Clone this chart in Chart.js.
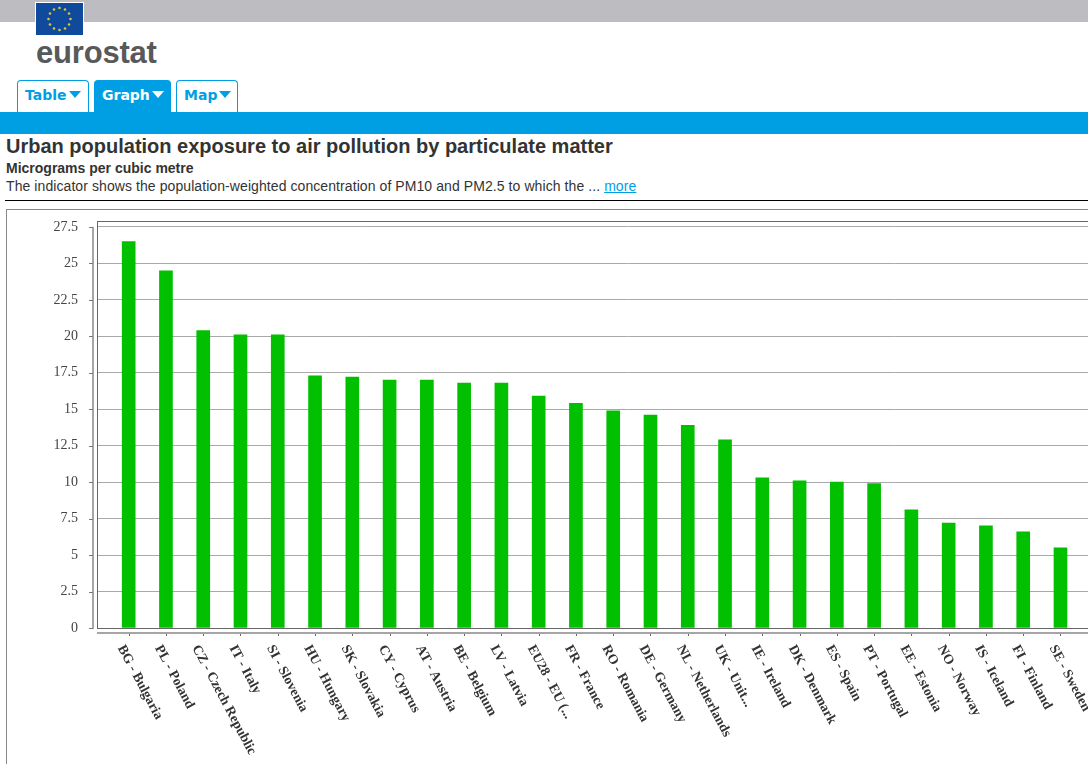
<!DOCTYPE html>
<html>
<head>
<meta charset="utf-8">
<title>Urban population exposure to air pollution by particulate matter</title>
<script src="https://cdn.jsdelivr.net/npm/chart.js@4"></script>
<style>
html, body { margin: 0; padding: 0; background: #fff; overflow: hidden; width: 1088px; height: 764px; }
body { position: relative; font-family: "Liberation Sans", Arial, sans-serif; color: #333; }
.abs { position: absolute; white-space: nowrap; }
#topbar { left: 0; top: 0; width: 1088px; height: 22px; background: #bdbdc1; }
#flag { left: 36px; top: 3px; width: 47px; height: 32px; background: #0f4a9c; box-shadow: 0 0 0 1px #fff; }
#logo { left: 36px; top: 36px; font-size: 31px; font-weight: bold; color: #58595b; line-height: 34px; letter-spacing: -0.2px; }
.tab { top: 80px; height: 32px; box-sizing: border-box; border: 1px solid #009fe3; border-bottom: none; border-radius: 4px 4px 0 0; background: #fff; color: #009fe3; font-family: "DejaVu Sans", sans-serif; font-weight: bold; font-size: 14px; line-height: 29px; padding-left: 7px; }
.tab i { display: inline-block; width: 0; height: 0; border-left: 6px solid transparent; border-right: 6px solid transparent; border-top: 7px solid #009fe3; margin-left: 2px; vertical-align: 2px; }
.tab.on { background: #009fe3; color: #fff; }
.tab.on i { border-top-color: #fff; }
#band { left: 0; top: 112px; width: 1088px; height: 22px; background: #009fe3; }
#title { left: 6px; top: 134px; font-size: 20px; font-weight: bold; line-height: 24px; }
#unit { left: 6px; top: 160px; font-size: 14px; font-weight: bold; line-height: 17px; }
#desc { left: 6px; top: 178px; font-size: 14px; line-height: 17px; letter-spacing: 0.08px; }
#desc a { color: #009fe3; text-decoration: underline; }
#rule { left: 5px; top: 200px; width: 1083px; height: 1px; background: #000; }
#frame { left: 6px; top: 209px; width: 1100px; height: 600px; border: 1px solid #888; box-sizing: border-box; }
#wrap { left: 0; top: 210px; width: 1160px; height: 554px; }
</style>
</head>
<body>
<div class="abs" id="topbar"></div>
<svg class="abs" id="flag" viewBox="0 0 47 32"></svg>
<div class="abs" id="logo">eurostat</div>
<div class="abs tab" style="left:17px;width:72px">Table<i></i></div>
<div class="abs tab on" style="left:94px;width:77px">Graph<i></i></div>
<div class="abs tab" style="left:176px;width:62px">Map<i></i></div>
<div class="abs" id="band"></div>
<div class="abs" id="title">Urban population exposure to air pollution by particulate matter</div>
<div class="abs" id="unit">Micrograms per cubic metre</div>
<div class="abs" id="desc">The indicator shows the population-weighted concentration of PM10 and PM2.5 to which the ... <a href="#">more</a></div>
<div class="abs" id="rule"></div>
<div class="abs" id="frame"></div>
<div class="abs" id="wrap"><canvas id="chart"></canvas></div>
<script>
const countries = ['BG - Bulgaria', 'PL - Poland', 'CZ - Czech Republic', 'IT - Italy', 'SI - Slovenia',
    'HU - Hungary', 'SK - Slovakia', 'CY - Cyprus', 'AT - Austria', 'BE - Belgium', 'LV - Latvia',
    'EU28 - EU (...', 'FR - France', 'RO - Romania', 'DE - Germany', 'NL - Netherlands', 'UK - Unit...',
    'IE - Ireland', 'DK - Denmark', 'ES - Spain', 'PT - Portugal', 'EE - Estonia', 'NO - Norway',
    'IS - Iceland', 'FI - Finland', 'SE - Sweden'];
const values = [26.5, 24.5, 20.4, 20.1, 20.1, 17.3, 17.2, 17, 17, 16.8, 16.8, 15.9, 15.4, 14.9, 14.6,
    13.9, 12.9, 10.3, 10.1, 10, 9.9, 8.1, 7.2, 7, 6.6, 5.5];
const yTicks = [0, 2.5, 5, 7.5, 10, 12.5, 15, 17.5, 20, 22.5, 25, 27.5];

// Flag stars
const flag = document.getElementById('flag');
for (let i = 0; i < 12; i++) {
    const a = i * Math.PI / 6;
    const s = document.createElementNS('http://www.w3.org/2000/svg', 'circle');
    s.setAttribute('cx', 23.5 + 11 * Math.sin(a));
    s.setAttribute('cy', 16 - 11 * Math.cos(a));
    s.setAttribute('r', 1.3);
    s.setAttribute('fill', '#d8c53a');
    flag.appendChild(s);
}

// Plot box around the bars
const plotBox = {
    id: 'plotBox',
    afterDatasetsDraw(chart) {
        const { ctx, chartArea: a } = chart;
        ctx.save();
        ctx.strokeStyle = '#666';
        ctx.strokeRect(a.left + 0.5, a.top + 0.5, a.width, a.height);
        ctx.restore();
    }
};

// The axes sit a few pixels away from the plot box, and the x labels run downwards
const detachedAxes = {
    id: 'detachedAxes',
    afterDraw(chart) {
        const { ctx, chartArea, scales } = chart;
        ctx.save();
        ctx.fillStyle = '#a6a6a6';
        // y axis
        const axisX = chartArea.left - 4;
        const y0 = scales.y.getPixelForValue(0);
        const yTop = scales.y.getPixelForValue(27.5);
        ctx.fillRect(axisX - 1, yTop, 2, y0 - yTop + 1);
        ctx.fillStyle = '#777';
        yTicks.forEach(v => {
            ctx.fillRect(axisX - 4, Math.round(scales.y.getPixelForValue(v)), 4, 1);
        });
        // x axis
        const axisY = chartArea.bottom + 5;
        ctx.fillStyle = '#a6a6a6';
        ctx.fillRect(chartArea.left, axisY - 1, chartArea.width, 2);
        ctx.fillStyle = '#666';
        countries.forEach((c, i) => {
            ctx.fillRect(Math.round(scales.x.getPixelForValue(i)), axisY + 1, 1, 2);
        });
        // x labels
        ctx.fillStyle = '#333';
        ctx.font = 'bold 13.7px "Liberation Serif", serif';
        ctx.textAlign = 'left';
        ctx.textBaseline = 'middle';
        countries.forEach((c, i) => {
            ctx.save();
            ctx.translate(scales.x.getPixelForValue(i) - 8, axisY + 13);
            ctx.rotate(62 * Math.PI / 180);
            ctx.fillText(c, 0, 0);
            ctx.restore();
        });
        ctx.restore();
    }
};

const ctx = document.getElementById('chart').getContext('2d');
new Chart(ctx, {
    type: 'bar',
    data: {
        datasets: [{
            data: values.map((v, i) => ({ x: i, y: v })),
            backgroundColor: '#00c000',
            barThickness: 13
        }]
    },
    plugins: [plotBox, detachedAxes],
    options: {
        responsive: true,
        maintainAspectRatio: false,
        animation: false,
        layout: { padding: { top: 11, bottom: 136, left: 0, right: 0 } },
        plugins: { legend: { display: false }, tooltip: { enabled: false } },
        scales: {
            x: {
                type: 'linear',
                offset: false,
                min: -0.85,
                max: 27.67,
                grid: { display: false },
                ticks: { display: false },
                border: { display: false },
                afterFit: scale => { scale.height = 0; }
            },
            y: {
                min: 0,
                max: 27.91,
                afterBuildTicks: scale => { scale.ticks = yTicks.map(v => ({ value: v })); },
                afterFit: scale => { scale.width = 97; scale.paddingTop = 0; scale.paddingBottom = 0; },
                grid: { color: '#a9a9a9', drawTicks: false },
                border: { display: false },
                ticks: {
                    padding: 19,
                    color: '#444',
                    font: { family: '"Liberation Serif", serif', size: 14 },
                    callback: v => String(v)
                }
            }
        }
    }
});
</script>
</body>
</html>
